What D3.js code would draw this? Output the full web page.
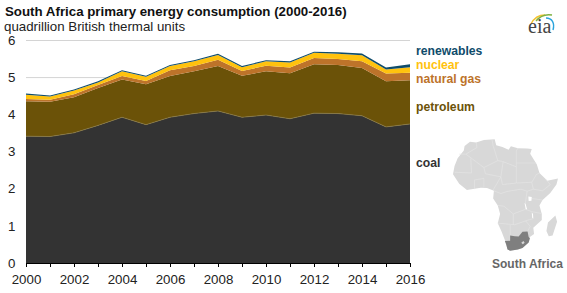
<!DOCTYPE html>
<html>
<head>
<meta charset="utf-8">
<script src="https://cdn.jsdelivr.net/npm/d3@7"></script>
<style>
  html, body { margin: 0; padding: 0; background: #fff; }
  svg { display: block; }
  text { font-family: "Liberation Sans", Arial, sans-serif; }
</style>
</head>
<body>
<svg id="chart" width="567" height="293"></svg>
<script>
// values, quadrillion Btu
const years = [2000, 2001, 2002, 2003, 2004, 2005, 2006, 2007, 2008, 2009, 2010, 2011, 2012, 2013, 2014, 2015, 2016];
const coal = [3.42, 3.41, 3.51, 3.71, 3.93, 3.73, 3.93, 4.03, 4.10, 3.93, 3.99, 3.89, 4.04, 4.03, 3.97, 3.67, 3.75];
const petroleum = [0.94, 0.94, 0.96, 1.01, 1.02, 1.09, 1.11, 1.14, 1.21, 1.12, 1.18, 1.23, 1.32, 1.31, 1.29, 1.23, 1.18];
const naturalGas = [0.06, 0.05, 0.08, 0.08, 0.09, 0.09, 0.16, 0.14, 0.17, 0.13, 0.15, 0.15, 0.17, 0.16, 0.18, 0.21, 0.20];
const nuclear = [0.12, 0.09, 0.10, 0.07, 0.13, 0.11, 0.11, 0.13, 0.13, 0.10, 0.12, 0.14, 0.14, 0.14, 0.16, 0.11, 0.15];
const renewables = [0.03, 0.03, 0.03, 0.03, 0.03, 0.03, 0.03, 0.03, 0.03, 0.03, 0.03, 0.03, 0.03, 0.04, 0.05, 0.05, 0.08];

const seriesKeys = ['coal', 'petroleum', 'natural gas', 'nuclear', 'renewables'];
const seriesValues = [coal, petroleum, naturalGas, nuclear, renewables];
const seriesColors = ['#333333', '#6b5208', '#bd732a', '#ffc20e', '#0f4c6b'];
// height of each series label, in axis units
const labelValues = [2.70, 4.21, 4.95, 5.33, 5.72];

const yTicks = [0, 1, 2, 3, 4, 5, 6];

// rough lon/lat outlines for the locator map
const africaOutline = [[-6,35.8],[-2,35.2],[3,36.9],[10,37.3],[11,33.5],[15,32.3],[19,30.5],[20.5,32.8],[25,31.6],[31,31.4],[34,31],[33,28],[35.8,23.5],[37.3,21],[39,15.5],[43,11.6],[44,10.5],[51,12],[50,8],[46,2.5],[41,-2],[39,-5.5],[40.5,-11],[40.5,-15],[35,-20],[35.5,-24],[32.8,-26],[32,-29.5],[28,-33],[25,-34],[20,-34.8],[18.3,-34],[17,-29],[14.5,-22.5],[12,-17],[13.5,-11],[12,-5.5],[9,-1],[9.5,4],[5,5.8],[1,6],[-4,5.2],[-8,4.5],[-13,8.5],[-17,14.7],[-16,20],[-14,25],[-10,30],[-9.5,33]];
const madagascar = [[49.3,-12],[50.4,-16],[47.5,-25],[45,-25.5],[43.5,-22],[44.5,-16.5]];
const southAfrica = [[16.6,-28.6],[20,-28.4],[20,-25],[23,-25.5],[25.5,-25.7],[28,-22.5],[31.3,-22.4],[32,-26],[32.8,-26.8],[32,-29.5],[28,-33],[25,-34],[20,-34.8],[18.3,-34],[17.5,-31]];
const lesotho = [[27.2,-29.6],[28.6,-28.6],[29.4,-29.6],[28.2,-30.6]];
const borders = [
  [[-2,35.2],[-1.5,32],[-8.7,27.7],[-13,27.7]],
  [[-8.7,27.7],[-5,25],[3,19],[12,23.5],[10,30],[9,33],[8.3,36.9]],
  [[-16,16],[-5,15.5],[-5.5,25]],
  [[3,19],[4,15],[14,13],[15.5,23]],
  [[12,23.5],[15,23],[24,19.5],[24,29.8],[25,31.6]],
  [[24,22],[36.8,22]],
  [[14,13],[15,8],[24,9],[24,19.5]],
  [[24,9],[34,9.5],[37,14.5],[39,15.5]],
  [[34,9.5],[35,5],[41,4],[46,8],[43,11.6]],
  [[9.5,4],[14,2.2],[18,3.5],[27,5],[31,3.7],[35,5]],
  [[3,6.3],[3,12],[-3,11],[-3,5]],
  [[14,13],[9,4.5]],
  [[12,-5.5],[16,-6],[22,-11],[30,-8]],
  [[31,3.7],[30,-3],[30,-8],[34,-9.5],[40.5,-10.8]],
  [[34,-1],[41,-2]],
  [[12,-17],[23,-18],[30,-15.5],[35,-14]],
  [[20,-18],[20,-28.4]],
  [[22,-11],[22,-18]],
  [[30,-15.5],[33,-19],[31.3,-22.4]]
];
const lakes = [[[31.8,0.2],[34,0],[33.8,-2.5],[32,-2.6]], [[29.3,-4],[30,-4.5],[31,-8],[30.2,-8]], [[34,-10],[34.8,-11],[35,-14],[34.3,-13.5]]];
const logoArcs = [
  {color: '#f2c230', d: 'M531 24 C534 18 539 15 545 15'},
  {color: '#7fb241', d: 'M536 21 C540 16 546 14 552 15'},
  {color: '#2aa4dc', d: 'M546 18 C552 18 555 23 553 30'}
];

const margin = {top: 40.5, right: 157, bottom: 30, left: 26};
const width = 567, height = 293;

const svg = d3.select('#chart');
const x = d3.scaleLinear().domain([2000, 2016]).range([margin.left, width - margin.right]);
const y = d3.scaleLinear().domain([0, 6]).range([height - margin.bottom, margin.top]);

svg.append('text').attr('x', 5).attr('y', 16).attr('font-size', 13.3).attr('font-weight', 'bold').attr('fill', '#111')
  .text('South Africa primary energy consumption (2000-2016)');
svg.append('text').attr('x', 4).attr('y', 31).attr('font-size', 13.3).attr('fill', '#222')
  .text('quadrillion British thermal units');

// gridlines go under the areas
svg.append('g').selectAll('line')
  .data(yTicks.filter(d => d > 0))
  .join('line')
  .attr('x1', x.range()[0]).attr('x2', x.range()[1])
  .attr('y1', d => y(d)).attr('y2', d => y(d))
  .attr('stroke', '#d4d4d4').attr('stroke-width', 1);

const table = years.map((year, i) => {
  const row = {year};
  seriesKeys.forEach((k, j) => { row[k] = seriesValues[j][i]; });
  return row;
});
const stacked = d3.stack().keys(seriesKeys)(table);
const area = d3.area().x(d => x(d.data.year)).y0(d => y(d[0])).y1(d => y(d[1]));

svg.append('g').selectAll('path')
  .data(stacked)
  .join('path')
  .attr('d', area)
  .attr('fill', (d, i) => seriesColors[i]);

// thin light edge along the top of coal, as in the original
svg.append('path')
  .datum(stacked[0])
  .attr('d', d3.line().x(d => x(d.data.year)).y(d => y(d[1])))
  .attr('fill', 'none').attr('stroke', '#8a7a45').attr('stroke-width', 0.7);

const xAxis = d3.axisBottom(x).tickValues(years).tickSize(4).tickFormat(d => d % 2 === 0 ? d : '');
const gx = svg.append('g').attr('transform', `translate(0,${y(0)})`).call(xAxis);
gx.select('.domain').attr('stroke', '#000').attr('stroke-width', 1);
gx.selectAll('line').attr('stroke', '#000');
gx.selectAll('text').attr('font-size', 13.3).attr('fill', '#222').attr('font-family', '"Liberation Sans", Arial, sans-serif').attr('dy', 0).attr('y', 20.5);

svg.append('g').selectAll('text')
  .data(yTicks)
  .join('text')
  .attr('x', 15.5).attr('y', d => y(d)).attr('dy', '0.35em')
  .attr('text-anchor', 'end').attr('font-size', 13.3).attr('fill', '#222')
  .text(d => d);

svg.append('g').selectAll('text')
  .data(seriesKeys)
  .join('text')
  .attr('x', 416).attr('y', (d, i) => y(labelValues[i])).attr('dy', '0.33em')
  .attr('font-size', 12.2).attr('font-weight', 'bold')
  .attr('fill', (d, i) => seriesColors[i])
  .text(d => d);

// locator map
const africaShape = {type: 'MultiPolygon', coordinates: [[africaOutline.concat([africaOutline[0]])], [madagascar.concat([madagascar[0]])]]};
const projection = d3.geoIdentity().reflectY(true).fitExtent([[453, 139], [558, 251]], africaShape);
const geoPath = d3.geoPath(projection);
const closed = ring => ({type: 'Polygon', coordinates: [ring.concat([ring[0]])]});
const mapG = svg.append('g');
mapG.append('path').attr('d', geoPath(africaShape)).attr('fill', '#d8d8d8');
mapG.append('path').attr('d', geoPath({type: 'MultiLineString', coordinates: borders}))
  .attr('fill', 'none').attr('stroke', '#e6e6e6').attr('stroke-width', 0.6);
mapG.selectAll('.lake').data(lakes).join('path').attr('class', 'lake')
  .attr('d', d => geoPath(closed(d))).attr('fill', '#fff');
mapG.append('path').attr('d', geoPath(closed(southAfrica))).attr('fill', '#7f7f7f');
mapG.append('path').attr('d', geoPath(closed(lesotho))).attr('fill', '#d8d8d8');
svg.append('text').attr('x', 492).attr('y', 268).attr('font-size', 12).attr('font-weight', 'bold').attr('fill', '#666')
  .text('South Africa');

// eia logo
svg.append('g').selectAll('path').data(logoArcs).join('path')
  .attr('d', d => d.d).attr('fill', 'none').attr('stroke', d => d.color).attr('stroke-width', 1.4);
svg.append('text').attr('x', 528).attr('y', 33).attr('font-size', 20)
  .attr('fill', '#444').style('font-family', '"Liberation Serif", serif').text('eia');
</script>
</body>
</html>
